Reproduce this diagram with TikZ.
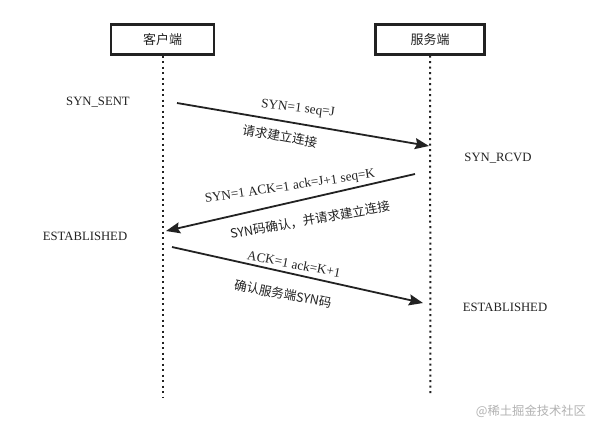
\documentclass[tikz,border=0pt]{standalone}
\usepackage{fontspec}
\setmainfont{Liberation Serif}
\newfontfamily\cjk{Noto Sans CJK SC}
\usetikzlibrary{arrows.meta}
\definecolor{ink}{HTML}{222222}
\tikzset{
  actor/.style={draw=ink, line width=2.2pt, minimum width=#1, minimum height=30pt, inner sep=0pt, font=\cjk\fontsize{13}{15}\selectfont, text=ink},
  lifeline/.style={draw=ink, line width=2pt, dash pattern=on 2pt off 3.5pt},
  msg/.style={draw=ink, line width=1.8pt, -{Stealth[length=14pt,width=11pt,inset=2pt]}},
  state/.style={font=\fontsize{12.7}{14}\selectfont, text=ink, inner sep=0pt},
  latlbl/.style={font=\fontsize{13.2}{15}\selectfont, text=ink, inner sep=0pt},
  cnlbl/.style={font=\cjk\fontsize{12.6}{14}\selectfont, text=ink, inner sep=0pt},
}
\begin{document}
\begin{tikzpicture}[x=1pt,y=-1pt]
\useasboundingbox[fill=white] (0,0) rectangle (590,424);
% actors
\node[actor=103pt] (client) at (162.5,39.5) {客户端};
\node[actor=109pt] (server) at (430,39.5) {服务端};
\coordinate (cend) at (162.5,398);
\coordinate (send) at (430.5,396);
\draw[lifeline] (client.south) -- (cend);
\draw[lifeline] (server.south) -- (send);
% states
\node[state] (s1) at (98,102) {SYN\_SENT};
\node[state] (s2) at (498,158) {SYN\_RCVD};
\node[state] (s3) at (85,236) {ESTABLISHED};
\node[state] (s4) at (505,307) {ESTABLISHED};
% message endpoints
\coordinate (m1a) at (177,103);
\coordinate (m1b) at (429,146);
\coordinate (m2a) at (415,174);
\coordinate (m2b) at (166,231);
\coordinate (m3a) at (172,247);
\coordinate (m3b) at (423,303);
\draw[msg] (m1a) -- (m1b);
\draw[msg] (m2a) -- (m2b);
\draw[msg] (m3a) -- (m3b);
% labels
\node[latlbl, rotate=-7] (l1a) at (298,109) {SYN=1 seq=J};
\node[cnlbl, rotate=-10] (l1b) at (280,136) {请求建立连接};
\node[latlbl, rotate=8.5] (l2a) at (290,187) {SYN=1 ACK=1 ack=J+1 seq=K};
\node[cnlbl, rotate=10] (l2b) at (310,220) {SYN码确认，并请求建立连接};
\node[latlbl, rotate=-11] (l3a) at (294,264) {ACK=1 ack=K+1};
\node[cnlbl, rotate=-11] (l3b) at (283,294) {确认服务端SYN码};
% watermark
\node[font=\cjk\fontsize{12.3}{14}\selectfont, text=black!30, inner sep=0pt] (wm) at (531,411) {@稀土掘金技术社区};
\end{tikzpicture}
\end{document}
